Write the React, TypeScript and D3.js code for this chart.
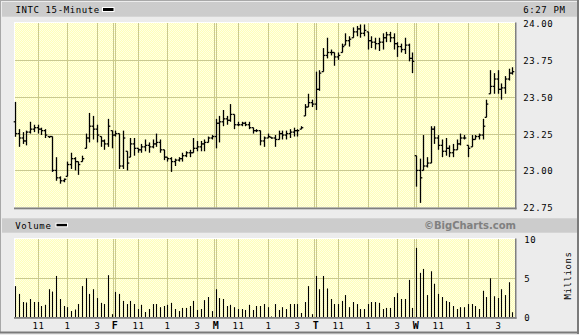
import React from 'react';
import * as d3 from 'd3';

const highs = [
  23.465, 23.28, 23.26, 23.27, 23.33, 23.31, 23.31, 23.29, 23.28, 23.23, 23.23, 23.09, 22.96, 22.945, 23.06, 23.12, 23.09, 23.06, 23.10, 23.25, 23.39, 23.37, 23.31, 23.23, 23.21, 23.35, 23.27,
  23.27, 23.25, 23.27, 23.13, 23.22, 23.22, 23.15, 23.18, 23.21, 23.19, 23.21, 23.25, 23.21, 23.14, 23.09, 23.09, 23.08, 23.09, 23.12, 23.13, 23.14, 23.22, 23.20, 23.20, 23.21, 23.23, 23.24,
  23.35, 23.37, 23.41, 23.37, 23.45, 23.38, 23.33, 23.33, 23.33, 23.33, 23.29, 23.28, 23.27, 23.23, 23.25, 23.225, 23.24, 23.27, 23.27, 23.27, 23.28, 23.29, 23.28, 23.30, 23.45, 23.52, 23.48,
  23.67, 23.68, 23.83, 23.90, 23.82, 23.80, 23.80, 23.86, 23.93, 23.91, 23.97, 23.98, 23.99, 23.99, 23.94, 23.91, 23.90, 23.90, 23.93, 23.94, 23.94, 23.93, 23.87, 23.86, 23.90, 23.86, 23.80,
  23.10, 23.08, 23.24, 23.09, 23.30, 23.30, 23.24, 23.21, 23.22, 23.17, 23.18, 23.21, 23.25, 23.24, 23.17, 23.24, 23.24, 23.25, 23.35, 23.48, 23.68, 23.66, 23.68, 23.59, 23.64, 23.69, 23.70,
];
const lows = [
  23.228, 23.16, 23.18, 23.17, 23.25, 23.26, 23.25, 23.24, 23.22, 23.22, 22.99, 22.93, 22.91, 22.92, 22.96, 23.01, 23.00, 22.97, 23.06, 23.15, 23.19, 23.21, 23.19, 23.16, 23.14, 23.16, 23.15,
  23.23, 23.01, 23.01, 23.00, 23.09, 23.10, 23.12, 23.12, 23.13, 23.12, 23.15, 23.16, 23.12, 23.07, 23.06, 22.99, 23.03, 23.06, 23.06, 23.09, 23.09, 23.12, 23.13, 23.13, 23.13, 23.19, 23.21,
  23.15, 23.19, 23.30, 23.31, 23.33, 23.28, 23.30, 23.30, 23.30, 23.28, 23.25, 23.26, 23.17, 23.16, 23.22, 23.215, 23.16, 23.21, 23.21, 23.21, 23.22, 23.23, 23.23, 23.28, 23.37, 23.43, 23.43,
  23.41, 23.54, 23.67, 23.76, 23.78, 23.71, 23.75, 23.80, 23.85, 23.84, 23.90, 23.91, 23.90, 23.91, 23.82, 23.83, 23.82, 23.81, 23.82, 23.87, 23.87, 23.82, 23.77, 23.80, 23.79, 23.74, 23.66,
  22.89, 22.78, 23.00, 23.02, 23.05, 23.18, 23.14, 23.09, 23.10, 23.09, 23.09, 23.14, 23.17, 23.21, 23.09, 23.16, 23.21, 23.21, 23.21, 23.36, 23.52, 23.52, 23.52, 23.48, 23.52, 23.61, 23.65,
];
const closes = [
  23.25, 23.22, 23.20, 23.26, 23.28, 23.29, 23.28, 23.27, 23.24, 23.23, 23.00, 22.95, 22.93, 22.94, 23.04, 23.08, 23.06, 23.04, 23.08, 23.22, 23.30, 23.28, 23.24, 23.20, 23.18, 23.30, 23.24,
  23.25, 23.03, 23.22, 23.05, 23.18, 23.15, 23.14, 23.16, 23.17, 23.16, 23.18, 23.19, 23.14, 23.09, 23.08, 23.06, 23.07, 23.08, 23.10, 23.12, 23.12, 23.15, 23.16, 23.18, 23.19, 23.22, 23.23,
  23.32, 23.33, 23.35, 23.34, 23.38, 23.31, 23.31, 23.32, 23.31, 23.29, 23.27, 23.27, 23.20, 23.22, 23.23, 23.22, 23.21, 23.25, 23.24, 23.25, 23.26, 23.27, 23.27, 23.29, 23.43, 23.46, 23.45,
  23.55, 23.66, 23.78, 23.80, 23.80, 23.77, 23.78, 23.84, 23.88, 23.89, 23.94, 23.96, 23.93, 23.95, 23.88, 23.87, 23.86, 23.87, 23.90, 23.92, 23.90, 23.86, 23.84, 23.82, 23.85, 23.76, 23.74,
  23.00, 22.95, 23.03, 23.05, 23.28, 23.22, 23.17, 23.13, 23.15, 23.12, 23.14, 23.18, 23.22, 23.22, 23.15, 23.21, 23.23, 23.24, 23.30, 23.45, 23.57, 23.62, 23.55, 23.56, 23.62, 23.66, 23.67,
];
const volumes = [
  4.0, 3.0, 1.96, 1.9, 2.35, 1.96, 1.96, 1.45, 1.6, 3.6, 3.3, 5.3, 2.35, 1.45, 1.3, 0.8, 1.0, 1.7, 4.0, 5.0, 3.0, 3.6, 2.47, 1.85, 1.7, 5.4, 0.4,
  3.25, 3.0, 2.1, 1.7, 2.1, 1.7, 1.06, 1.6, 0.68, 1.06, 1.7, 1.7, 1.3, 1.45, 1.6, 1.85, 1.06, 0.8, 1.2, 1.2, 1.45, 2.1, 0.94, 1.06, 2.2, 2.6, 0.8,
  3.6, 2.47, 2.35, 1.45, 1.6, 1.3, 1.06, 1.06, 0.94, 1.6, 0.94, 1.45, 1.45, 1.7, 1.3, 0.1, 1.7, 0.94, 1.3, 1.06, 1.7, 1.7, 1.7, 0.55, 1.96, 4.0, 0.4,
  5.3, 3.6, 5.3, 3.7, 2.35, 1.7, 1.7, 2.1, 2.85, 1.3, 1.96, 1.7, 1.06, 1.06, 1.7, 1.96, 1.96, 1.85, 1.06, 1.2, 1.2, 2.6, 3.1, 2.35, 2.35, 4.8, 1.2,
  8.9, 5.7, 6.2, 2.85, 5.9, 4.3, 3.0, 2.6, 2.1, 1.96, 1.45, 1.06, 1.3, 1.3, 1.7, 1.7, 1.45, 1.06, 3.4, 2.6, 5.0, 2.7, 2.47, 3.6, 2.85, 4.5, 0.65,
];
const priceTicks = [24.0, 23.75, 23.5, 23.25, 23.0, 22.75];
const priceGrid = [23.75, 23.5, 23.25, 23.0];
const volumeTicks = [10, 5, 0];
const hourLabels = ['11', '1', '3'];
const hourOffsets = [6, 14, 22];
const dayLabels = ['', 'F', 'M', 'T', 'W'];
const BARS_PER_DAY = 27;
const titleText = 'INTC 15-Minute';
const timeText = '6:27 PM';
const volumeText = 'Volume';
const creditText = '\u00A9BigCharts.com';
const unitText = 'Millions';

const MONO = '"DejaVu Sans Mono", monospace';
const GRID = '#c9c98f';

export default function App() {
  const W = 579;
  const H = 335;
  const P = { l: 14, r: 515, t: 22.5, b: 207.5 };
  const V = { l: 14, r: 515, t: 238.5, b: 317.5 };
  const x = d3.scaleLinear().domain([0, highs.length - 1]).range([15.3, 512.4]);
  const y = d3.scaleLinear().domain([22.75, 24]).range([207.3, 23]);
  const yv = d3.scaleLinear().domain([0, 10]).range([317.3, 239.3]);

  const opens = closes.map((c, i) => {
    const prev = i === 0 ? 23.33 : closes[i - 1];
    return Math.max(lows[i], Math.min(highs[i], prev));
  });

  const nDays = Math.ceil(highs.length / BARS_PER_DAY);
  const hourTicks: { i: number; label: string }[] = [];
  const dayTicks: { i: number; label: string }[] = [];
  for (let d = 0; d < nDays; d++) {
    if (d > 0) dayTicks.push({ i: d * BARS_PER_DAY, label: dayLabels[d] });
    hourOffsets.forEach((o, k) => hourTicks.push({ i: d * BARS_PER_DAY + o, label: hourLabels[k] }));
  }
  const cx = (i: number) => Math.round(x(i)) + 0.5;

  const textStyle = { fontFamily: MONO, fontSize: 9, letterSpacing: 0.6 } as React.CSSProperties;

  const verticalGrid = (top: number, bottom: number) => (
    <g stroke={GRID} strokeWidth={1}>
      {hourTicks.map((t) => (
        <line key={'h' + t.i} x1={cx(t.i)} x2={cx(t.i)} y1={top} y2={bottom} />
      ))}
      {dayTicks.map((t) => (
        <g key={'d' + t.i}>
          <line x1={cx(t.i) - 2} x2={cx(t.i) - 2} y1={top} y2={bottom} />
          <line x1={cx(t.i)} x2={cx(t.i)} y1={top} y2={bottom} />
        </g>
      ))}
    </g>
  );

  return (
    <svg width={W} height={H} style={{ position: 'absolute', left: 0, top: 0, display: 'block' }}>
      <defs>
        <pattern id="dither" width={2} height={2} patternUnits="userSpaceOnUse">
          <rect width={2} height={2} fill="#ffffb8" />
          <rect x={0} y={0} width={1} height={1} fill="#ffffe6" />
          <rect x={1} y={1} width={1} height={1} fill="#ffffe6" />
        </pattern>
      </defs>
      {/* frame */}
      <rect x={0} y={0} width={W} height={H} fill="#ececec" />
      <line x1={0} x2={W} y1={0.5} y2={0.5} stroke="#a8a8a8" />
      <line x1={0.5} x2={0.5} y1={0} y2={333} stroke="#a8a8a8" />
      <rect x={577} y={0} width={2} height={334} fill="#7a7a7a" />
      <rect x={0} y={331.5} width={579} height={2} fill="#7a7a7a" />

      {/* title bars */}
      <rect x={2} y={2} width={575} height={14.7} fill="#cccccc" />
      <text x={15.5} y={13} style={textStyle}>{titleText}</text>
      <rect x={102.5} y={7.5} width={11.5} height={4} fill="#000" stroke="#fff" strokeWidth={1} />
      <text x={523.3} y={13} style={textStyle}>{timeText}</text>

      <rect x={2} y={218.3} width={575} height={14.4} fill="#cccccc" />
      <text x={15.3} y={228.5} style={textStyle}>{volumeText}</text>
      <rect x={56} y={223.3} width={11.5} height={3.5} fill="#000" stroke="#fff" strokeWidth={1} />
      <text x={470} y={228.7} textAnchor="middle" fill="#808080" style={{ fontFamily: '"DejaVu Sans", sans-serif', fontSize: 10, fontWeight: 'bold' }}>{creditText}</text>

      {/* price panel */}
      <rect x={P.l} y={P.t} width={P.r - P.l} height={P.b - P.t} fill="url(#dither)" />
      <g stroke={GRID} strokeWidth={1}>
        {priceGrid.map((p) => (
          <line key={p} x1={P.l} x2={P.r} y1={Math.round(y(p)) + 0.5} y2={Math.round(y(p)) + 0.5} />
        ))}
      </g>
      {verticalGrid(P.t, P.b)}
      <line x1={P.l} x2={P.r} y1={P.t} y2={P.t} stroke="#fff" />
      <line x1={P.l + 0.5} x2={P.l + 0.5} y1={P.t} y2={P.b} stroke="#fff" />
      <rect x={P.l} y={P.b} width={P.r - P.l + 1.5} height={1.8} fill="#808080" />
      <rect x={P.r} y={P.t} width={1.5} height={P.b - P.t + 1.8} fill="#808080" />
      <g stroke="#000" strokeWidth={1.3}>
        {highs.map((h, i) => {
          const xi = cx(i);
          return (
            <g key={i}>
              <line x1={xi} x2={xi} y1={y(h)} y2={y(lows[i])} />
              <line x1={xi - 1.8} x2={xi} y1={y(opens[i])} y2={y(opens[i])} />
              <line x1={xi} x2={xi + 1.8} y1={y(closes[i])} y2={y(closes[i])} />
            </g>
          );
        })}
      </g>
      {priceTicks.map((p) => (
        <text key={p} x={523.3} y={y(p) + 4} style={textStyle}>{p.toFixed(2)}</text>
      ))}

      {/* volume panel */}
      <rect x={V.l} y={V.t} width={V.r - V.l} height={V.b - V.t} fill="url(#dither)" />
      <line x1={V.l} x2={V.r} y1={Math.round(yv(5)) + 0.5} y2={Math.round(yv(5)) + 0.5} stroke={GRID} />
      {verticalGrid(V.t, V.b)}
      <line x1={V.l} x2={V.r} y1={V.t} y2={V.t} stroke="#fff" />
      <line x1={V.l + 0.5} x2={V.l + 0.5} y1={V.t} y2={V.b} stroke="#fff" />
      <g stroke="#000" strokeWidth={1.1}>
        {volumes.map((v, i) => (
          <line key={i} x1={cx(i)} x2={cx(i)} y1={yv(v)} y2={yv(0)} />
        ))}
      </g>
      <rect x={V.l} y={V.b - 0.5} width={V.r - V.l + 1.5} height={1.8} fill="#808080" />
      <rect x={V.r} y={V.t} width={1.5} height={V.b - V.t + 1.3} fill="#808080" />
      {volumeTicks.map((v) => (
        <text key={v} x={524.3} y={yv(v) + 4} style={textStyle}>{String(v)}</text>
      ))}
      <text
        transform={`translate(570.5,275.5) rotate(-90)`}
        textAnchor="middle"
        style={textStyle}
      >
        {unitText}
      </text>

      {/* x axis labels */}
      {hourTicks.map((t) => (
        <text key={'hl' + t.i} x={cx(t.i)} y={329} textAnchor="middle" style={textStyle}>{t.label}</text>
      ))}
      {dayTicks.map((t) => (
        <text key={'dl' + t.i} x={cx(t.i) - 0.5} y={329} textAnchor="middle" style={{ ...textStyle, fontWeight: 'bold', fontSize: 10 }}>{t.label}</text>
      ))}
    </svg>
  );
}
